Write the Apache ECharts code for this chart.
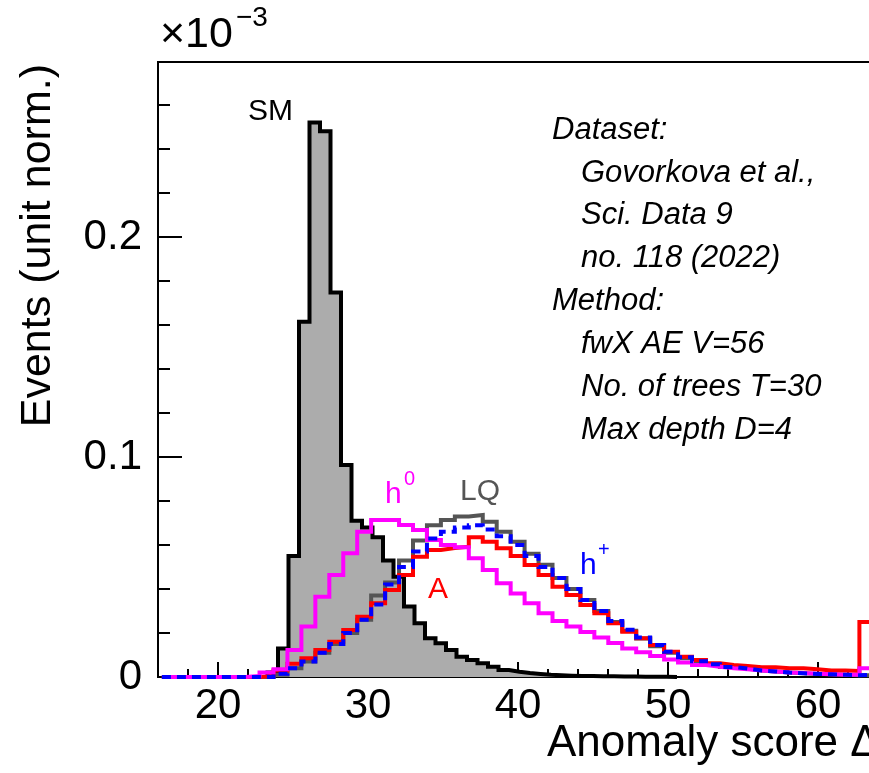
<!DOCTYPE html>
<html><head><meta charset="utf-8">
<script src="https://cdn.jsdelivr.net/npm/echarts@6/dist/echarts.min.js"></script>
<style>html,body{margin:0;padding:0;background:#fff}#c{width:869px;height:773px}</style>
</head><body><div id="c"></div>
<script>
// ---- axis ranges & ticks ----
const xRange = [16, 64];
const yRange = [0, 0.2795];
const xMajorTicks = [20, 30, 40, 50, 60];
const xMinorTicks = [18, 22, 24, 26, 28, 32, 34, 36, 38, 42, 44, 46, 48, 52, 54, 56, 58, 62];
const yMajorTicks = [0, 0.1, 0.2];
const yMinorTicks = [0.02, 0.04, 0.06, 0.08, 0.12, 0.14, 0.16, 0.18, 0.22, 0.24, 0.26];

// ---- SM histogram (bin width 0.7) ----
const smBinStart = 16.3, smBinWidth = 0.7;
const smValues = [0,0,0,0,0,0,0,0,0,0, 0.002,0.013,0.055,0.1615,0.252,0.248,0.1747,0.0964,0.071,0.068,
  0.0635,0.053,0.0456,0.032,0.0244,0.0176,0.0153,0.0123,0.0092,0.0077,
  0.0062,0.0047,0.0032,0.0024,0.0018,0.0014,0.001,0.0008,0.0006,0.0005,
  0.0004,0.0003,0.0003,0.0002,0.0002,0.0001,0.0001,0.0001,0];

// ---- signal histograms (bin width 0.93) ----
const sigBinStart = 16.26, sigBinWidth = 0.93;
const lqValues = [0,0,0,0,0,0,0,0, 0.001,0.004,0.007,0.011,0.015,0.02,0.026,0.037,0.043,0.053,0.062,0.069,
  0.0714,0.0729,0.0736,0.0706,0.066,0.0615,0.056,0.051,0.045,0.040,
  0.035,0.030,0.025,0.021,0.0175,0.014,0.011,0.0085,0.0068,0.0055,
  0.0045,0.0038,0.003,0.0025,0.002,0.0017,0.0014,0.0012,0.001,0.0008,0.0008];
const aValues = [0,0,0,0,0,0,0,0.0005, 0.003,0.006,0.0085,0.0123,0.016,0.0214,0.0274,0.0335,0.0395,0.0464,0.0547,0.0577,
  0.0586,0.0592,0.0635,0.0615,0.0585,0.055,0.0509,0.0464,0.041,0.0373,
  0.0327,0.029,0.0244,0.0206,0.0176,0.0145,0.0115,0.0092,0.0077,0.0062,
  0.0055,0.005,0.0044,0.0044,0.004,0.004,0.0035,0.003,0.0029,0.0027,0.025];
const hpValues = [0,0,0,0,0,0,0,0, 0.0015,0.004,0.007,0.011,0.015,0.02,0.026,0.033,0.042,0.05,0.057,0.063,
  0.066,0.068,0.069,0.067,0.064,0.06,0.055,0.05,0.045,0.04,
  0.035,0.03,0.0255,0.0215,0.018,0.0145,0.0115,0.009,0.0072,0.0058,
  0.0046,0.0038,0.003,0.0025,0.002,0.0017,0.0014,0.0012,0.001,0.0008,0.001];
const h0Values = [0,0,0,0,0,0,0.0005,0.002, 0.0035,0.0123,0.023,0.0365,0.0464,0.0562,0.066,0.0714,0.0714,0.0691,0.0668,0.0623,
  0.060,0.059,0.054,0.0486,0.0426,0.038,0.0335,0.029,0.0255,0.023,
  0.0205,0.018,0.0155,0.013,0.0113,0.0095,0.008,0.0066,0.0055,0.0047,
  0.004,0.0035,0.003,0.0025,0.002,0.0018,0.0015,0.0012,0.001,0.001,0.004];

const infoLines = [
  ['Dataset:', 0], ['Govorkova et al.,', 1], ['Sci. Data 9', 1], ['no. 118 (2022)', 1],
  ['Method:', 0], ['fwX AE V=56', 1], ['No. of trees T=30', 1], ['Max depth D=4', 1]
];

function histPoints(start, width, vals) {
  const pts = [[start, 0]];
  vals.forEach((v, i) => pts.push([start + i * width, v]));
  const end = start + vals.length * width;
  pts.push([end, vals[vals.length - 1]]);
  pts.push([end, 0]);
  return pts;
}

const FONT = '"Liberation Sans", Arial, Helvetica, sans-serif';
function histSeries(name, data, color, extra) {
  return Object.assign({
    name, type: 'line', step: 'end', data, showSymbol: false, symbol: 'none',
    clip: false, silent: true,
    lineStyle: { color, width: 4, cap: 'butt', join: 'miter' }
  }, extra || {});
}

const chart = echarts.init(document.getElementById('c'), null, { renderer: 'canvas' });

const graphics = [];
graphics.push({ type: 'text', left: 160, top: 14, style: { text: '×10', fontSize: 43, fontFamily: FONT, fill: '#000' } });
graphics.push({ type: 'text', left: 236, top: 4, style: { text: '−3', fontSize: 28, fontFamily: FONT, fill: '#000' } });
graphics.push({ type: 'text', left: 547, top: 722, style: { text: 'Anomaly score Δ', fontSize: 44, fontFamily: FONT, fill: '#000' } });
graphics.push({ type: 'text', x: 38, y: 64, rotation: Math.PI / 2,
  style: { text: 'Events (unit norm.)', fontSize: 43, fontFamily: FONT, fill: '#000', align: 'right', verticalAlign: 'middle' } });
infoLines.forEach((l, i) => {
  graphics.push({ type: 'text', x: l[1] ? 581 : 552, y: 130 + i * 42.9,
    style: { text: l[0], fontSize: 31, fontStyle: 'italic', fontFamily: FONT, fill: '#000', verticalAlign: 'middle' } });
});
const lab = (t, x, y, c, fs) => ({ type: 'text', x, y, z: 100,
  style: { text: t, fontSize: fs || 30, fontFamily: FONT, fill: c, verticalAlign: 'middle' } });
graphics.push(lab('SM', 248, 112, '#000'));
graphics.push(lab('h', 385, 495, '#ff00ff'));
graphics.push(lab('0', 404, 479, '#ff00ff', 20));
graphics.push(lab('LQ', 460, 492, '#555555'));
graphics.push(lab('A', 428, 590, '#ff0000'));
graphics.push(lab('h', 580, 566, '#0000ff'));
graphics.push(lab('+', 598, 550, '#0000ff', 20));

const option = {
  animation: false,
  backgroundColor: '#fff',
  grid: { left: 158, right: -9, top: 62, bottom: 96, show: true, borderColor: '#000', borderWidth: 2,
    backgroundColor: 'transparent', containLabel: false, outerBoundsMode: 'none' },
  xAxis: [
    { type: 'value', min: xRange[0], max: xRange[1], position: 'bottom',
      axisLine: { show: true, lineStyle: { color: '#000', width: 2 } },
      axisTick: { show: true, inside: true, length: 15, customValues: xMajorTicks, lineStyle: { color: '#000', width: 2 } },
      axisLabel: { show: true, customValues: xMajorTicks, fontSize: 42, fontFamily: FONT, color: '#000', margin: 8 },
      splitLine: { show: false } },
    { type: 'value', min: xRange[0], max: xRange[1], position: 'bottom',
      axisLine: { show: false },
      axisTick: { show: true, inside: true, length: 8, customValues: xMinorTicks, lineStyle: { color: '#000', width: 2 } },
      axisLabel: { show: false }, splitLine: { show: false } }
  ],
  yAxis: [
    { type: 'value', min: yRange[0], max: yRange[1], position: 'left',
      axisLine: { show: true, lineStyle: { color: '#000', width: 2 } },
      axisTick: { show: true, inside: true, length: 24, customValues: yMajorTicks, lineStyle: { color: '#000', width: 2 } },
      axisLabel: { show: true, customValues: yMajorTicks, fontSize: 42, fontFamily: FONT, color: '#000', margin: 16,
        formatter: v => (v === 0 ? '0' : String(v)) },
      splitLine: { show: false } },
    { type: 'value', min: yRange[0], max: yRange[1], position: 'left',
      axisLine: { show: false },
      axisTick: { show: true, inside: true, length: 12, customValues: yMinorTicks, lineStyle: { color: '#000', width: 2 } },
      axisLabel: { show: false }, splitLine: { show: false } }
  ],
  series: [
    histSeries('SM', histPoints(smBinStart, smBinWidth, smValues), '#000000', { areaStyle: { color: '#acacac', opacity: 1 }, z: 2 }),
    histSeries('LQ', histPoints(sigBinStart, sigBinWidth, lqValues), '#555555', { z: 3 }),
    histSeries('A', histPoints(sigBinStart, sigBinWidth, aValues), '#ff0000', { z: 4 }),
    histSeries('h0', histPoints(sigBinStart, sigBinWidth, h0Values), '#ff00ff', { z: 5 }),
    histSeries('h+', histPoints(sigBinStart, sigBinWidth, hpValues), '#0000ff', { z: 6,
      lineStyle: { color: '#0000ff', width: 4, type: [9, 6], cap: 'butt', join: 'miter' } })
  ],
  graphic: graphics
};
chart.setOption(option);
</script></body></html>
